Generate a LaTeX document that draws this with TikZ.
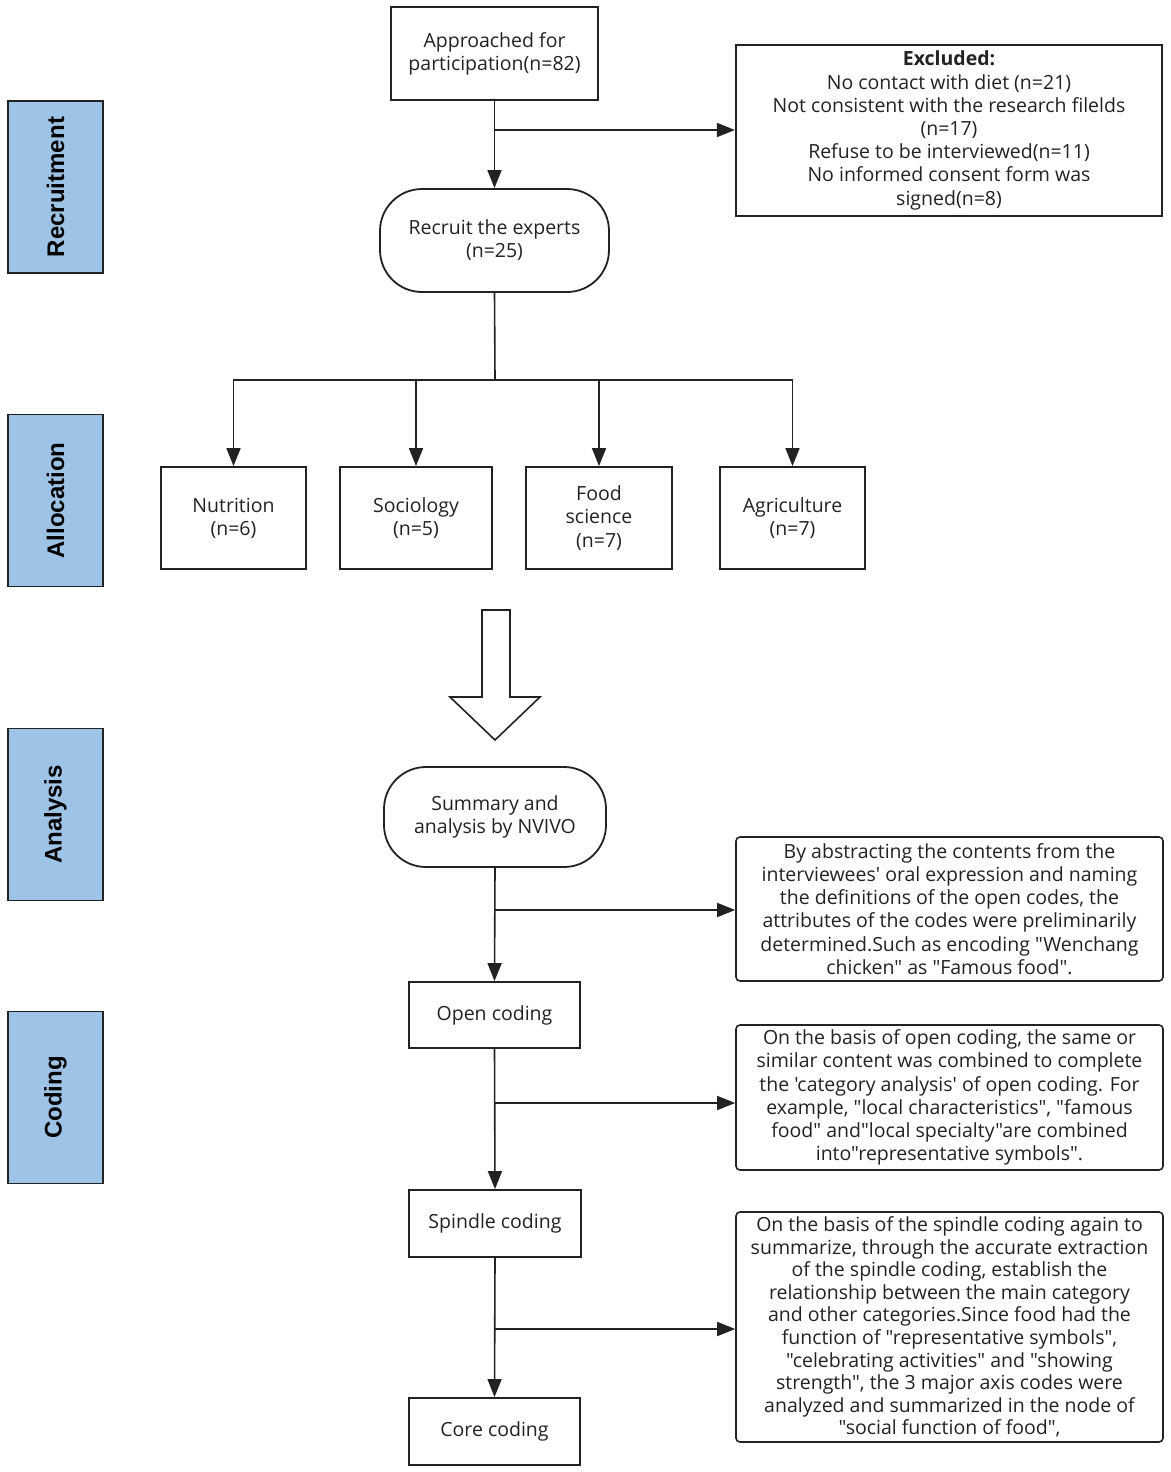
\documentclass[tikz,border=0pt]{standalone}
\usepackage{fontspec}
\setmainfont{Open Sans}[Ligatures=TeXOff]
\newfontfamily\labfont{Liberation Sans}
\usetikzlibrary{arrows.meta}
\definecolor{sideblue}{RGB}{157,195,230}
\definecolor{ink}{RGB}{34,34,34}
\begin{document}
\begin{tikzpicture}[x=1pt,y=-1pt,
  every node/.style={text=ink},
  txt/.style={font=\fontsize{19.5}{23.2}\selectfont, align=center, inner sep=1pt},
  box/.style={txt, draw=ink, line width=1.8pt},
  sqbox/.style={box},
  rbox/.style={box, rounded corners=42pt},
  tbox/.style={box, rounded corners=4pt, line width=1.6pt},
  side/.style={draw=ink, line width=1.8pt, fill=sideblue, rotate=90,
     minimum width=172pt, minimum height=95pt, font=\labfont\bfseries\fontsize{24}{28}\selectfont, text=black},
  arr/.style={draw=ink, line width=1.6pt, -{Triangle[width=14pt,length=18pt]}},
  ln/.style={draw=ink, line width=1.6pt}
]
\useasboundingbox (0,0) rectangle (1170,1472);

% side labels
\node[side] (s1) at (55.5,187) {Recruitment};
\node[side] (s2) at (55.5,500.5) {Allocation};
\node[side] (s3) at (55.5,814.5) {Analysis};
\node[side] (s4) at (55.5,1097.5) {Coding};

% recruitment
\node[sqbox, minimum width=207pt, minimum height=93pt] (app) at (494.5,53.5) {Approached for\\participation(n=82)};
\node[sqbox, line width=2.2pt, minimum width=426pt, minimum height=171pt] (exc) at (949,130.5)
  {\textbf{Excluded:}\\No contact with diet (n=21)\\Not consistent with the research filelds\\(n=17)\\Refuse to be interviewed(n=11)\\No informed consent form was\\signed(n=8)};
\node[rbox, minimum width=229pt, minimum height=103pt] (rec) at (494.5,240.5) {Recruit the experts\\(n=25)};

\coordinate (b1) at (495,130);
\draw[arr] (app.south) -- (rec.north);
\draw[arr] (b1) -- (exc.west |- b1);

% allocation
\node[sqbox, minimum width=145pt, minimum height=102pt] (nut) at (233.5,518) {Nutrition\\(n=6)};
\node[sqbox, minimum width=152pt, minimum height=102pt] (soc) at (416,518) {Sociology\\(n=5)};
\node[sqbox, minimum width=146pt, minimum height=102pt] (fs) at (599,518) {Food\\science\\(n=7)};
\node[sqbox, minimum width=145pt, minimum height=102pt] (agr) at (792.5,518) {Agriculture\\(n=7)};

\coordinate (j) at (495,380);
\draw[ln] (rec.south) -- (j);
\draw[arr] (j) -| (nut.north);
\draw[arr] (j) -| (soc.north);
\draw[arr] (j) -| (fs.north);
\draw[arr] (j) -| (agr.north);

% hollow arrow
\draw[ink, line width=1.6pt, line join=miter, fill=white]
  (482,610) -- (510,610) -- (510,697) -- (540,697) -- (495,740) -- (450,697) -- (482,697) -- cycle;

% analysis
\node[rbox, minimum width=222pt, minimum height=100pt] (sum) at (495,817) {Summary and\\analysis by NVIVO};
\node[sqbox, minimum width=171pt, minimum height=66pt] (open) at (494.5,1015) {Open coding};
\node[sqbox, minimum width=172pt, minimum height=67pt] (spin) at (495,1223.5) {Spindle coding};
\node[sqbox, minimum width=171pt, minimum height=67pt] (core) at (494.5,1431.5) {Core coding};

\node[tbox, minimum width=427pt, minimum height=144pt] (t1) at (949.5,909)
  {By abstracting the contents from the\\interviewees' oral expression and naming\\the definitions of the open codes, the\\attributes of the codes were preliminarily\\determined.Such as encoding "Wenchang\\chicken" as "Famous food".};
\node[tbox, minimum width=427pt, minimum height=145pt] (t2) at (949.5,1097.5)
  {On the basis of open coding, the same or\\similar content was combined to complete\\the 'category analysis' of open coding. For\\example, "local characteristics", "famous\\food" and"local specialty"are combined\\into"representative symbols".};
\node[tbox, font=\fontsize{19.5}{22.6}\selectfont, inner sep=0pt, minimum width=427pt, minimum height=230pt] (t3) at (949.5,1327)
  {On the basis of the spindle coding again to\\summarize, through the accurate extraction\\of the spindle coding, establish the\\relationship between the main category\\and other categories.Since food had the\\function of "representative symbols",\\"celebrating activities" and "showing\\strength", the 3 major axis codes were\\analyzed and summarized in the node of\\"social function of food",};

\draw[arr] (sum.south) -- (open.north);
\draw[arr] (open.south) -- (spin.north);
\draw[arr] (spin.south) -- (core.north);
\coordinate (b2) at (495,910);
\coordinate (b3) at (495,1103);
\coordinate (b4) at (495,1329);
\draw[arr] (b2) -- (t1.west |- b2);
\draw[arr] (b3) -- (t2.west |- b3);
\draw[arr] (b4) -- (t3.west |- b4);
\end{tikzpicture}
\end{document}
